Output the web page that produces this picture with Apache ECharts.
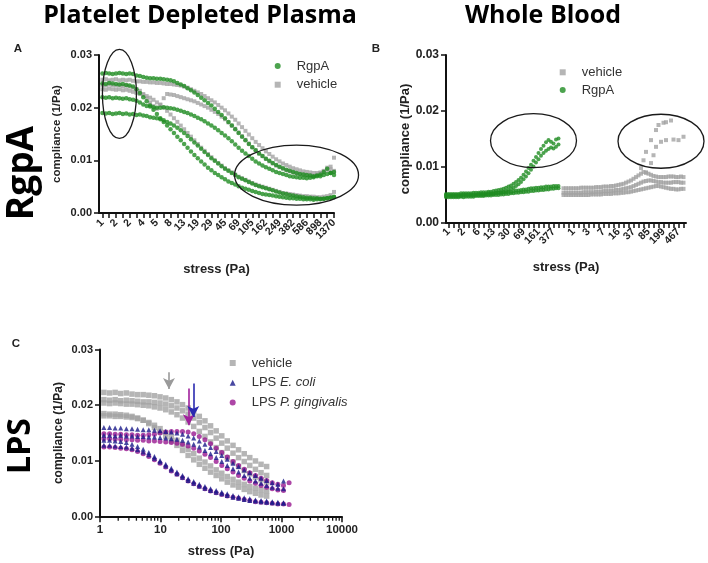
<!DOCTYPE html>
<html><head><meta charset="utf-8">
<script src="https://cdn.jsdelivr.net/npm/echarts/dist/echarts.min.js"></script>
<style>html,body{margin:0;padding:0;background:#fff}#c{width:708px;height:563px}</style>
</head><body><div id="c"></div><script>
// ---------- Panel A : Platelet Depleted Plasma, RgpA ----------
const A_ticks = ['1','2','2','4','5','8','13','19','29','45','69','105','162','249','382','586','898','1370'];
const A_rgpa1 = [.0265,.0266,.0265,.0264,.0265,.0266,.0265,.0264,.0265,.0264,.0261,.026,.0258,.0257,.0256,.0256,.0255,.0255,.0254,.0253,.0252,.025,.0247,.0244,.0241,.0237,.0233,.0229,.0224,.0219,.0214,.0209,.0204,.0198,.0192,.0186,.018,.0173,.0166,.0159,.0152,.0145,.0138,.0131,.0125,.0119,.0113,.0108,.0103,.0099,.0095,.0091,.0088,.0085,.0082,.008,.0078,.0076,.0074,.0073,.0072,.0071,.007,.0071,.007,.0072,.0074,.0076,.0078];
const A_rgpa2 = [.022,.0219,.022,.0218,.0219,.0218,.0217,.0218,.0216,.0215,.0213,.021,.0206,.0203,.0202,.0201,.02,.02,.0201,.02,.0199,.0198,.0196,.0194,.0192,.019,.0187,.0184,.0181,.0178,.0174,.017,.0166,.0162,.0157,.0152,.0147,.0142,.0136,.013,.0124,.0118,.0113,.0108,.0103,.0098,.0094,.009,.0087,.0084,.0081,.0078,.0076,.0074,.0072,.007,.0069,.0068,.0067,.0067,.0066,.0067,.0068,.007,.0073,.0078,.0084,.0076,.0072];
const A_rgpa3 = [.019,.0189,.019,.0188,.0189,.019,.0188,.0189,.0187,.0188,.0186,.0187,.0185,.0184,.0182,.0181,.018,.0178,.0176,.0173,.017,.0166,.0162,.0157,.0152,.0146,.014,.0134,.0128,.0122,.0116,.011,.0104,.0099,.0094,.0089,.0084,.008,.0076,.0072,.0068,.0065,.0062,.0059,.0056,.0053,.0051,.0049,.0047,.0045,.0043,.0041,.0039,.0037,.0036,.0034,.0033,.0032,.0031,.003,.0029,.0029,.0028,.0028,.0027,.0027,.0028,.0029,.003];
const A_rgpa4 = [.0246,.0245,.0247,.0246,.0245,.0244,.0245,.0243,.0242,.024,.0235,.0228,.022,.0212,.0204,.0196,.0188,.018,.0173,.0166,.0159,.0152,.0145,.0138,.0131,.0124,.0117,.011,.0104,.0098,.0092,.0086,.0081,.0076,.0072,.0068,.0064,.006,.0057,.0054,.0051,.0048,.0046,.0044,.0042,.004,.0038,.0036,.0035,.0034,.0033,.0032,.0031,.003,.0029,.0028,.0028,.0027,.0027,.0026,.0026,.0026,.0025,.0026,.0026,.0027,.0028,.0029,.0031];
const A_veh1 = [.0253,.0254,.0252,.0253,.0254,.0252,.0253,.0252,.0253,.0251,.025,.025,.0249,.0249,.0248,.0248,.0247,.0247,.0246,.0245,.0245,.0244,.0243,.0242,.024,.0238,.0235,.0232,.0229,.0226,.0222,.0218,.0214,.021,.0205,.02,.0195,.0189,.0183,.0177,.017,.0163,.0156,.0149,.0142,.0135,.0129,.0123,.0117,.0112,.0107,.0102,.0098,.0094,.0091,.0088,.0085,.0083,.0081,.0079,.0078,.0077,.0076,.0076,.0077,.0079,.0082,.0088,.0105];
const A_veh2 = [.0243,.0242,.0244,.0243,.0242,.0243,.0241,.0242,.024,.0238,.0235,.0232,.0226,.0218,.021,.0203,.0198,.0206,.0218,.0226,.0225,.0224,.0222,.022,.0218,.0216,.0214,.0212,.0209,.0206,.0203,.02,.0196,.0192,.0188,.0183,.0178,.0172,.0166,.016,.0153,.0146,.0139,.0132,.0125,.0119,.0113,.0108,.0103,.0098,.0094,.009,.0087,.0084,.0081,.0079,.0077,.0075,.0074,.0073,.0072,.0072,.0071,.0073,.0076,.008,.0086,.0083,.008];
const A_veh3 = [.0235,.0234,.0236,.0235,.0234,.0235,.0233,.0234,.0232,.023,.0228,.0226,.0224,.0222,.0219,.0215,.021,.0205,.02,.0194,.0187,.018,.0173,.0166,.0159,.0152,.0145,.0138,.0131,.0124,.0118,.0112,.0106,.01,.0095,.009,.0085,.0081,.0077,.0073,.0069,.0066,.0063,.006,.0057,.0054,.0052,.005,.0048,.0046,.0044,.0042,.004,.0038,.0037,.0036,.0035,.0034,.0033,.0032,.0032,.0031,.0031,.003,.003,.0031,.0032,.0034,.004];

// ---------- Panel B : Whole Blood, RgpA ----------
const B_ticks1 = ['1','2','6','13','30','69','161','377'];
const B_ticks2 = ['1','3','7','16','37','85','199','467'];
const B_rgpa1 = [.0046,.0046,.0046,.0046,.0046,.0046,.0047,.0046,.0047,.0047,.0047,.0047,.0048,.0048,.0048,.0048,.0049,.0049,.0049,.005,.005,.005,.0051,.0051,.0052,.0052,.0053,.0053,.0054,.0054,.0055,.0055,.0056,.0056,.0057,.0057,.0058,.0058,.0059,.0059,.006,.006,.0061,.0061,.0062,.0062];
const B_rgpa2 = [.005,.005,.005,.005,.005,.005,.005,.0051,.0051,.0051,.0051,.0051,.0051,.0052,.0052,.0052,.0052,.0053,.0053,.0053,.0054,.0054,.0054,.0055,.0055,.0056,.0056,.0057,.0058,.0058,.0059,.006,.006,.0061,.0062,.0062,.0063,.0063,.0064,.0064,.0065,.0065,.0065,.0066,.0066,.0066];
const B_rgpa3 = [.0048,.0048,.0048,.0048,.0048,.0048,.0048,.0049,.0049,.0049,.0049,.0049,.005,.005,.005,.005,.0051,.0051,.0052,.0052,.0053,.0054,.0055,.0056,.0057,.0059,.0061,.0063,.0066,.0069,.0073,.0078,.0083,.0089,.0095,.0101,.0108,.0114,.012,.0125,.0129,.0132,.0135,.0133,.0136,.014];
const B_rgpa4 = [.0052,.0052,.0052,.0052,.0052,.0052,.0053,.0053,.0053,.0053,.0053,.0054,.0054,.0054,.0055,.0055,.0055,.0056,.0056,.0057,.0058,.0059,.006,.0061,.0063,.0065,.0067,.007,.0073,.0077,.0081,.0086,.0092,.0098,.0104,.0111,.0118,.0125,.0132,.0138,.0144,.0148,.0145,.0142,.0149,.0151];
const B_veh1 = [.005,.005,.005,.005,.005,.005,.005,.005,.005,.005,.005,.0051,.0051,.0051,.0051,.0051,.0052,.0052,.0052,.0052,.0053,.0053,.0053,.0054,.0054,.0055,.0055,.0056,.0057,.0058,.0059,.006,.0061,.0062,.0063,.0064,.0065,.0066,.0066,.0065,.0064,.0063,.0062,.0061,.0061,.006,.006,.0061,.0061];
const B_veh2 = [.0054,.0054,.0054,.0054,.0054,.0054,.0054,.0054,.0055,.0055,.0055,.0055,.0055,.0056,.0056,.0056,.0057,.0057,.0057,.0058,.0058,.0059,.0059,.006,.0061,.0062,.0063,.0064,.0066,.0068,.007,.0072,.0074,.0075,.0076,.0076,.0075,.0074,.0073,.0073,.0072,.0072,.0072,.0072,.0073,.0073,.0073,.0072,.0072];
const B_veh3 = [.0062,.0062,.0062,.0062,.0062,.0062,.0062,.0063,.0063,.0063,.0063,.0063,.0063,.0064,.0064,.0064,.0065,.0065,.0065,.0066,.0066,.0067,.0068,.0069,.007,.0072,.0074,.0076,.0079,.0082,.0085,.0088,.0091,.009,.0088,.0086,.0084,.0083,.0082,.0082,.0082,.0082,.0083,.0083,.0083,.0082,.0082,.0083,.0082];
const B_veh4 = [null,null,null,null,null,null,null,null,null,null,null,null,null,null,null,null,null,null,null,null,null,null,null,null,null,null,null,null,null,null,null,.0098,.0112,.0127,null,.0148,null,.0166,.0175,null,.0179,.018,null,.0183,null,null,null,null,null];
const B_veh5 = [null,null,null,null,null,null,null,null,null,null,null,null,null,null,null,null,null,null,null,null,null,null,null,null,null,null,null,null,null,null,null,null,null,.009,null,.0107,.0121,.0136,null,.0145,null,.0148,null,null,.0149,null,.0148,null,.0154];

// ---------- Panel C : LPS ----------
const C_stress = [1.16,1.44,1.78,2.2,2.73,3.38,4.18,5.18,6.41,7.94,9.83,12.2,15.1,18.7,23.1,28.6,35.4,43.8,54.3,67.2,83.2,103,127,158,195,242,299,371,459,568,703,871,1078,1335];
const C_minorTicks = [2,3,4,5,6,7,8,9,20,30,40,50,60,70,80,90,200,300,400,500,600,700,800,900,2000,3000,4000,5000,6000,7000,8000,9000];
const C_veh1 = [.0223,.0222,.0223,.0221,.0222,.022,.0219,.0219,.0218,.0217,.0215,.0213,.021,.0206,.0201,.0195,.0188,.018,.0172,.0163,.0154,.0145,.0136,.0128,.012,.0113,.0106,.01,.0094,.009];
const C_veh2 = [.021,.0209,.021,.0208,.0209,.0208,.0207,.0206,.0206,.0205,.0204,.0202,.0199,.0195,.019,.0184,.0177,.0169,.016,.0151,.0141,.0132,.0123,.0114,.0106,.0099,.0092,.0085,.0079,.0074];
const C_veh3 = [.0204,.0203,.0204,.0203,.0202,.0202,.0201,.02,.0199,.0197,.0195,.0192,.0188,.0183,.0177,.017,.0162,.0153,.0144,.0134,.0124,.0115,.0106,.0098,.009,.0083,.0077,.0071,.0066,.0062];
const C_veh4 = [.0185,.0184,.0184,.0183,.0182,.018,.0177,.0173,.0167,.016,.0152,.0144,.0136,.0128,.0119,.011,.0102,.0094,.0087,.008,.0074,.0068,.0062,.0057,.0053,.0049,.0045,.0042,.0039,.0037];
const C_veh5 = [.0181,.0181,.018,.018,.0179,.0178,.0176,.0173,.0169,.0164,.0158,.0151,.0144,.0137,.0129,.0121,.0113,.0105,.0098,.0091,.0084,.0078,.0072,.0067,.0062,.0058,.0054,.0051,.0048,.0046];
const C_ecoli1 = [.016,.016,.0159,.0159,.0158,.0158,.0157,.0156,.0156,.0155,.0154,.0153,.0152,.015,.0148,.0145,.0141,.0136,.013,.0124,.0117,.011,.0103,.0096,.009,.0084,.0079,.0074,.0069,.0065,.0061,.0058,.0064];
const C_ecoli2 = [.0146,.0146,.0145,.0146,.0145,.0145,.0144,.0144,.0143,.0143,.0142,.0141,.014,.0139,.0137,.0134,.013,.0125,.0119,.0113,.0106,.0099,.0092,.0086,.008,.0074,.0069,.0064,.006,.0056,.0053,.0051,.005];
const C_ecoli3 = [.0137,.0137,.0136,.0135,.0133,.013,.0126,.0121,.0115,.0108,.0101,.0094,.0087,.008,.0074,.0068,.0063,.0058,.0054,.005,.0047,.0044,.0041,.0038,.0036,.0034,.0032,.003,.0029,.0028,.0027,.0026,.0025];
const C_ecoli4 = [.0128,.0128,.0127,.0126,.0125,.0123,.012,.0116,.0111,.0105,.0098,.0091,.0084,.0077,.0071,.0065,.006,.0055,.0051,.0047,.0044,.0041,.0038,.0035,.0033,.0031,.0029,.0028,.0027,.0026,.0025,.0024,.0024];
const C_pg1 = [.0149,.0149,.0148,.0148,.0147,.0147,.0146,.0146,.0147,.0148,.015,.0152,.0153,.0153,.0153,.0152,.0149,.0144,.0138,.0131,.0123,.0115,.0107,.0099,.0092,.0085,.0079,.0074,.0069,.0065,.0061,.0058,.0056,.0061];
const C_pg2 = [.014,.014,.0139,.0139,.0138,.0138,.0137,.0137,.0136,.0136,.0135,.0134,.0133,.0132,.013,.0127,.0123,.0118,.0112,.0106,.0099,.0092,.0086,.008,.0074,.0069,.0064,.006,.0056,.0053,.005,.0048,.0047];
const C_pg3 = [.0125,.0125,.0124,.0123,.0122,.012,.0117,.0113,.0108,.0102,.0096,.0089,.0082,.0076,.007,.0064,.0059,.0054,.005,.0046,.0043,.004,.0037,.0035,.0033,.0031,.0029,.0027,.0026,.0025,.0024,.0023,.0023,.0022];

// ---------- annotations (data-space centres) ----------
const A_ovals = [[5.9, .0226, 17, 44.5], [57.5, .0072, 62, 30]];
const B_ovals = [[35.2, .0147, 43, 27], [86, .0146, 43, 27]];
const C_arrows = [{x: 13.8, from: .0259, to: .0229, c: '#9a9a9a'}, {x: 34.8, from: .0239, to: .0179, c: '#2a2ab0'}, {x: 29.4, from: .0230, to: .0164, c: '#a0209c'}];

const GREEN = '#1f8c22', GRAY = '#a3a3a3', BLUE = '#1a1a8a', MAG = '#981890';
const AX = '"Liberation Sans", Arial, sans-serif';
const TF = '"Open Sans", sans-serif';

// category axes
const A_cats = Array.from({length: 70}, (_, i) => String(i));
const A_labelAt = {}; A_ticks.forEach((t, j) => { A_labelAt[1 + 4 * j] = t; });
const B_cats = Array.from({length: 97}, (_, i) => String(i));
const B_labelAt = {};
B_ticks1.forEach((t, j) => { B_labelAt[1 + 6 * j] = t; });
B_ticks2.forEach((t, j) => { B_labelAt[51 + 6 * j] = t; });
const B_grayStart = 47;

const toA = arr => arr.map((v, j) => [j + 1, v]);
const toB = (arr, s) => arr.map((v, j) => [s + j, v]).filter(d => d[1] !== null);
const toC = arr => arr.map((v, j) => [C_stress[j], v]);

const lineSt = {color: '#111', width: 2};
const tickSt = {color: '#111', width: 1.5};
function yAx(gi, gap, fs, nfs) {
  return {type: 'value', gridIndex: gi, min: 0, max: 0.03, interval: 0.01,
    name: 'compliance (1/Pa)', nameLocation: 'middle', nameGap: gap,
    nameTextStyle: {fontFamily: AX, fontWeight: 'bold', fontSize: nfs, color: '#222'},
    axisLine: {show: true, lineStyle: lineSt}, axisTick: {show: true, length: 5, lineStyle: tickSt},
    axisLabel: {formatter: v => v.toFixed(2), fontFamily: AX, fontWeight: 'bold', fontSize: fs, color: '#222', margin: 7},
    splitLine: {show: false}};
}
function xName(gap) {
  return {name: 'stress (Pa)', nameLocation: 'middle', nameGap: gap,
    nameTextStyle: {fontFamily: AX, fontWeight: 'bold', fontSize: 13, color: '#222'}};
}
function ovalItem(params, api) {
  const p = api.coord([api.value(0), api.value(1)]);
  return {type: 'ellipse', shape: {cx: p[0], cy: p[1], rx: api.value(2), ry: api.value(3)},
    style: {fill: 'none', stroke: '#1a1a1a', lineWidth: 1.3}};
}
function minorTickItem(params, api) {
  const p = api.coord([api.value(0), 0]);
  return {type: 'line', shape: {x1: p[0], y1: p[1], x2: p[0], y2: p[1] + 4}, style: {stroke: '#111', lineWidth: 1.3}};
}
function sc(name, xi, data, sym, size, color, z) {
  return {type: 'scatter', name, xAxisIndex: xi, yAxisIndex: xi, data, symbol: sym, symbolSize: size,
    itemStyle: {color}, z: z || 2, silent: true};
}

const series = [
  sc('vehicle', 0, toA(A_veh1), 'rect', 4, GRAY),
  sc('vehicle', 0, toA(A_veh2), 'rect', 4, GRAY),
  sc('vehicle', 0, toA(A_veh3), 'rect', 4, GRAY),
  sc('RgpA', 0, toA(A_rgpa1), 'circle', 4.5, GREEN, 3),
  sc('RgpA', 0, toA(A_rgpa2), 'circle', 4.5, GREEN, 3),
  sc('RgpA', 0, toA(A_rgpa3), 'circle', 4.5, GREEN, 3),
  sc('RgpA', 0, toA(A_rgpa4), 'circle', 4.5, GREEN, 3),
  {type: 'custom', xAxisIndex: 0, yAxisIndex: 0, data: A_ovals, renderItem: ovalItem, silent: true, z: 5},

  sc('vehicle', 1, toB(B_veh1, B_grayStart), 'rect', 4, GRAY),
  sc('vehicle', 1, toB(B_veh2, B_grayStart), 'rect', 4, GRAY),
  sc('vehicle', 1, toB(B_veh3, B_grayStart), 'rect', 4, GRAY),
  sc('vehicle', 1, toB(B_veh4, B_grayStart), 'rect', 4, GRAY),
  sc('vehicle', 1, toB(B_veh5, B_grayStart), 'rect', 4, GRAY),
  sc('RgpA', 1, toB(B_rgpa1, 0), 'circle', 4, GREEN, 3),
  sc('RgpA', 1, toB(B_rgpa2, 0), 'circle', 4, GREEN, 3),
  sc('RgpA', 1, toB(B_rgpa3, 0), 'circle', 4, GREEN, 3),
  sc('RgpA', 1, toB(B_rgpa4, 0), 'circle', 4, GREEN, 3),
  {type: 'custom', xAxisIndex: 1, yAxisIndex: 1, data: B_ovals, renderItem: ovalItem, silent: true, z: 5},

  sc('vehicle', 2, toC(C_veh1), 'rect', 5.5, GRAY),
  sc('vehicle', 2, toC(C_veh2), 'rect', 5.5, GRAY),
  sc('vehicle', 2, toC(C_veh3), 'rect', 5.5, GRAY),
  sc('vehicle', 2, toC(C_veh4), 'rect', 5.5, GRAY),
  sc('vehicle', 2, toC(C_veh5), 'rect', 5.5, GRAY),
  sc('LPS P. gingivalis', 2, toC(C_pg1), 'circle', 5, MAG, 3),
  sc('LPS P. gingivalis', 2, toC(C_pg2), 'circle', 5, MAG, 3),
  sc('LPS P. gingivalis', 2, toC(C_pg3), 'circle', 5, MAG, 3),
  sc('LPS E. coli', 2, toC(C_ecoli1), 'triangle', 5, BLUE, 4),
  sc('LPS E. coli', 2, toC(C_ecoli2), 'triangle', 5, BLUE, 4),
  sc('LPS E. coli', 2, toC(C_ecoli3), 'triangle', 5, BLUE, 4),
  sc('LPS E. coli', 2, toC(C_ecoli4), 'triangle', 5, BLUE, 4),
  {type: 'custom', xAxisIndex: 2, yAxisIndex: 2, data: C_minorTicks.map(v => [v, 0]), renderItem: minorTickItem, silent: true, clip: false, z: 6},
];
// arrows (markLine on the first series of the matching group)
const arrowTargets = [18, 26, 23];
C_arrows.forEach((a, k) => {
  series[arrowTargets[k]].markLine = {silent: true, animation: false, symbol: ['none', 'arrow'], symbolSize: [9, 11],
    label: {show: false}, lineStyle: {type: 'solid', color: a.c, width: 1.6},
    data: [[{coord: [a.x, a.from]}, {coord: [a.x, a.to]}]]};
});

const legText = {fontFamily: AX, fontSize: 13, color: '#333', padding: [0, 0, 0, 11]};
const legBase = {orient: 'vertical', itemWidth: 6, itemHeight: 6, padding: 0, selectedMode: false, textStyle: legText};
const option = {
  animation: false,
  backgroundColor: '#fff',
  grid: [
    {left: 99, top: 55, width: 235, height: 158},
    {left: 446, top: 55, width: 240, height: 168},
    {left: 100, top: 349.5, width: 242, height: 167.2}
  ],
  xAxis: [
    Object.assign({type: 'category', gridIndex: 0, data: A_cats, boundaryGap: false,
      axisLine: {lineStyle: lineSt},
      axisTick: {show: true, interval: i => i % 2 === 1, length: 5, lineStyle: tickSt},
      axisLabel: {interval: 0, formatter: (v, i) => A_labelAt[i] || '',
        rotate: 45, fontFamily: AX, fontWeight: 'bold', fontSize: 10.5, color: '#222', margin: 8},
      splitLine: {show: false}}, xName(50)),
    Object.assign({type: 'category', gridIndex: 1, data: B_cats, boundaryGap: false,
      axisLine: {lineStyle: lineSt},
      axisTick: {show: true, interval: i => i % 2 === 1, length: 5, lineStyle: tickSt},
      axisLabel: {interval: 0, formatter: (v, i) => B_labelAt[i] || '',
        rotate: 45, fontFamily: AX, fontWeight: 'bold', fontSize: 10.5, color: '#222', margin: 7},
      splitLine: {show: false}}, xName(38)),
    Object.assign({type: 'log', gridIndex: 2, min: 1, max: 10000, logBase: 10,
      axisLine: {lineStyle: lineSt},
      axisTick: {show: true, length: 5.5, lineStyle: tickSt},
      axisLabel: {formatter: v => String(v), fontFamily: AX, fontWeight: 'bold', fontSize: 11.5, color: '#222', margin: 7},
      splitLine: {show: false}}, xName(28))
  ],
  yAxis: [yAx(0, 36, 11, 11.5), yAx(1, 33, 12, 13), yAx(2, 35, 11, 12)],
  legend: [
    Object.assign({}, legBase, {data: ['RgpA', 'vehicle'], left: 274.7, top: 59.5, itemGap: 5.7}),
    Object.assign({}, legBase, {data: ['vehicle', 'RgpA'], left: 559.7, top: 65.8, itemGap: 4.7}),
    Object.assign({}, legBase, {data: ['vehicle', 'LPS E. coli', 'LPS P. gingivalis'], left: 229.7, top: 356.5, itemGap: 6.8,
      formatter: n => n.indexOf('LPS ') === 0 ? '{n|LPS }{i|' + n.slice(4) + '}' : '{n|' + n + '}',
      textStyle: Object.assign({}, legText, {rich: {
        n: {fontFamily: AX, fontSize: 13, color: '#333'},
        i: {fontFamily: AX, fontSize: 13, color: '#333', fontStyle: 'italic'}}})})
  ],
  graphic: [
    {type: 'text', x: 200, y: 16, style: {text: 'Platelet Depleted Plasma', font: 'bold 25px ' + TF, fill: '#000', align: 'center', verticalAlign: 'middle'}},
    {type: 'text', x: 543, y: 16, style: {text: 'Whole Blood', font: 'bold 25px ' + TF, fill: '#000', align: 'center', verticalAlign: 'middle'}},
    {type: 'text', x: 18, y: 49, style: {text: 'A', font: 'bold 11.5px ' + AX, fill: '#222', align: 'center', verticalAlign: 'middle'}},
    {type: 'text', x: 376, y: 48.5, style: {text: 'B', font: 'bold 11.5px ' + AX, fill: '#222', align: 'center', verticalAlign: 'middle'}},
    {type: 'text', x: 16, y: 343.5, style: {text: 'C', font: 'bold 11.5px ' + AX, fill: '#222', align: 'center', verticalAlign: 'middle'}},
    {type: 'text', x: 22, y: 173, rotation: Math.PI / 2, style: {text: 'RgpA', font: 'bold 37px ' + TF, fill: '#000', align: 'center', verticalAlign: 'middle'}},
    {type: 'text', x: 21, y: 446, rotation: Math.PI / 2, style: {text: 'LPS', font: 'bold 32px ' + TF, fill: '#000', align: 'center', verticalAlign: 'middle'}}
  ],
  series
};
const chart = echarts.init(document.getElementById('c'), null, {renderer: 'canvas'});
chart.setOption(option);
</script></body></html>
